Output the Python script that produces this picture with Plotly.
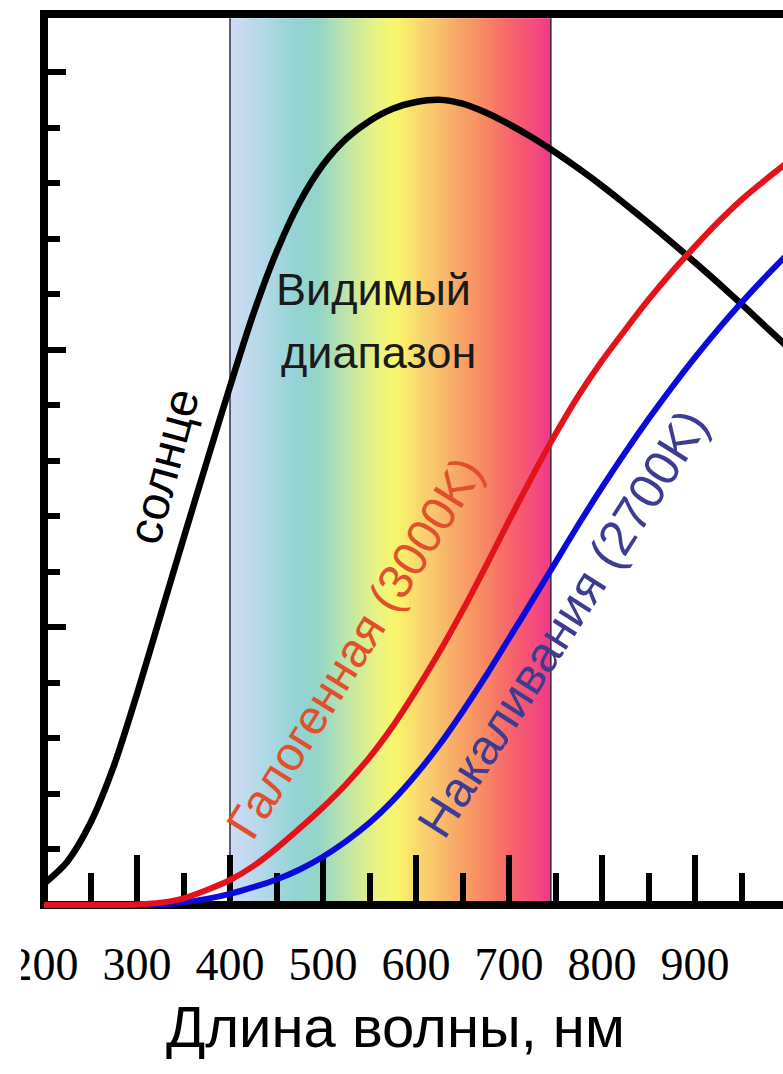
import plotly.graph_objects as go
from plotly.colors import sample_colorscale

# Relative spectral power versus wavelength (nm)
sun_nm = [200, 225, 250, 275, 300, 325, 350, 375, 400, 425, 450, 475, 500, 525,
          550, 575, 600, 625, 650, 675, 700, 725, 750, 775, 800, 825, 850, 875,
          900, 925, 950, 975, 1000]
sun_power = [0.38, 0.78, 1.48, 2.5, 3.8, 5.2, 6.6, 7.98, 9.34, 10.64, 11.76, 12.66,
             13.33, 13.8, 14.12, 14.34, 14.46, 14.5, 14.43, 14.27, 14.06, 13.82,
             13.55, 13.26, 12.95, 12.62, 12.28, 11.93, 11.57, 11.2, 10.82, 10.43, 10.04]

halogen_nm = [200, 250, 275, 300, 325, 350, 375, 400, 425, 450, 475, 500, 525, 550,
              575, 600, 625, 650, 675, 700, 725, 750, 775, 800, 825, 850, 875, 900,
              925, 950, 975, 1000]
halogen_power = [0.0, 0.0, 0.0, 0.01, 0.04, 0.12, 0.27, 0.45, 0.7, 1.02, 1.38, 1.76,
                 2.18, 2.66, 3.22, 3.86, 4.55, 5.3, 6.1, 6.92, 7.72, 8.48, 9.18, 9.8,
                 10.36, 10.9, 11.4, 11.86, 12.3, 12.7, 13.05, 13.38]

incandescent_nm = [200, 275, 300, 325, 350, 375, 400, 425, 450, 475, 500, 525, 550,
                   575, 600, 625, 650, 675, 700, 725, 750, 775, 800, 825, 850, 875,
                   900, 925, 950, 975, 1000]
incandescent_power = [0.0, 0.0, 0.0, 0.01, 0.05, 0.11, 0.2, 0.32, 0.46, 0.64, 0.87,
                      1.15, 1.48, 1.88, 2.35, 2.88, 3.48, 4.12, 4.8, 5.48, 6.17, 6.86,
                      7.52, 8.15, 8.75, 9.32, 9.86, 10.37, 10.85, 11.3, 11.73]

visible_band = [400, 745]

x_tick_values = [200, 300, 400, 500, 600, 700, 800, 900]
x_tick_labels = ["200", "300", "400", "500", "600", "700", "800", "900"]
y_major_ticks = [5, 10, 15]
y_minor_ticks = [1, 2, 3, 4, 6, 7, 8, 9, 11, 12, 13, 14]

# Axis windows
X_RANGE = [200, 994.6]
Y_RANGE = [-0.072, 16.045]
BAND_Y = [0.07, 15.97]

SANS = "Liberation Sans, Arial, sans-serif"
SERIF = "Liberation Serif, Times New Roman, serif"

# Rainbow fill of the visible band (stop position in nm, colour)
spectrum_stops = [
    (400, "#cfdcf5"), (430, "#b7d9ea"), (470, "#94d3d6"), (495, "#92d5c8"),
    (528, "#c2e7a6"), (560, "#ecf47e"), (580, "#f8f56a"), (608, "#f9d26f"),
    (640, "#f8ad68"), (672, "#f88a63"), (702, "#f7646c"), (730, "#f44a7e"),
    (745, "#f0388c"),
]
lo, hi = visible_band
spectrum_scale = [[(nm - lo) / (hi - lo), c] for nm, c in spectrum_stops]

fig = go.Figure()

# band as narrow strips under the ticks and curves
n_strips = 172
step = (hi - lo) / n_strips
strip_colours = sample_colorscale(spectrum_scale, [(i + 0.5) / n_strips for i in range(n_strips)])
for i, colour in enumerate(strip_colours):
    fig.add_shape(type="rect", xref="x", yref="y", layer="below",
                  x0=lo + i * step, x1=min(hi, lo + (i + 1.6) * step),
                  y0=BAND_Y[0], y1=BAND_Y[1],
                  fillcolor=colour, line=dict(width=0))
for edge in visible_band:
    fig.add_shape(type="line", xref="x", yref="y", layer="below",
                  x0=edge, x1=edge, y0=BAND_Y[0], y1=BAND_Y[1],
                  line=dict(color="#2d2d3c", width=1.5))

fig.add_trace(go.Scatter(
    x=sun_nm, y=sun_power, mode="lines",
    line=dict(color="#000000", width=6.5, shape="spline", smoothing=0.8),
    showlegend=False, hoverinfo="skip",
))
fig.add_trace(go.Scatter(
    x=incandescent_nm, y=incandescent_power, mode="lines",
    line=dict(color="#0a0adc", width=6, shape="spline", smoothing=0.8),
    showlegend=False, hoverinfo="skip",
))
fig.add_trace(go.Scatter(
    x=halogen_nm, y=halogen_power, mode="lines",
    line=dict(color="#e3121b", width=6, shape="spline", smoothing=0.8),
    showlegend=False, hoverinfo="skip",
))

# Frame: left, bottom and top lines (right side runs off the page)
frame = dict(type="line", xref="paper", yref="paper", layer="below",
             line=dict(color="black", width=8))
fig.add_shape(**frame, x0=0, x1=0, y0=0, y1=1.0045)
fig.add_shape(**frame, x0=-0.0054, x1=1.02, y0=0.00447, y1=0.00447)
fig.add_shape(**frame, x0=-0.0054, x1=1.02, y0=1, y1=1)
# trims the first tick label at the left edge
fig.add_shape(type="rect", xref="paper", yref="paper", layer="above",
              x0=-0.07, x1=-0.031, y0=-0.11, y1=-0.02,
              fillcolor="white", line=dict(width=0))

fig.add_annotation(x=554.8, y=11.08, xref="x", yref="y", text="Видимый",
                   showarrow=False, font=dict(family=SANS, size=45, color="#1a1a1a"))
fig.add_annotation(x=560, y=9.95, xref="x", yref="y", text="диапазон",
                   showarrow=False, font=dict(family=SANS, size=45, color="#1a1a1a"))
fig.add_annotation(x=328, y=7.9, xref="x", yref="y", text="солнце", textangle=-75,
                   showarrow=False, font=dict(family=SANS, size=48, color="#000000"))
fig.add_annotation(x=534.4, y=4.63, xref="x", yref="y", text="Галогенная (3000K)",
                   textangle=-58, showarrow=False,
                   font=dict(family=SANS, size=48, color="#e0502a"))
fig.add_annotation(x=758, y=5.08, xref="x", yref="y", text="Накаливания (2700K)",
                   textangle=-57.5, showarrow=False,
                   font=dict(family=SANS, size=49.5, color="#3c3c92"))
fig.add_annotation(x=0.475, y=-0.17, xref="paper", yref="paper",
                   text="Длина волны, нм", showarrow=False,
                   font=dict(family=SANS, size=58, color="#000000"))

fig.update_xaxes(
    range=X_RANGE, showgrid=False, zeroline=False, showline=False,
    tickmode="array", tickvals=x_tick_values, ticktext=x_tick_labels,
    ticks="inside", ticklen=54, tickwidth=6, tickcolor="black",
    minor=dict(dtick=50, tick0=200, ticks="inside", ticklen=36, tickwidth=6,
               tickcolor="black", showgrid=False),
    tickfont=dict(family=SERIF, size=46, color="black"),
    ticklabelstandoff=24, layer="below traces",
)
fig.update_yaxes(
    range=Y_RANGE, showgrid=False, zeroline=False, showline=False,
    showticklabels=False, tickmode="array", tickvals=y_major_ticks,
    ticks="inside", ticklen=22, tickwidth=6, tickcolor="black",
    minor=dict(tickmode="array", tickvals=y_minor_ticks, ticks="inside",
               ticklen=16, tickwidth=6, tickcolor="black", showgrid=False),
    layer="below traces",
)
fig.update_layout(
    width=783, height=1074,
    margin=dict(l=44, r=0, t=14, b=165),
    paper_bgcolor="white", plot_bgcolor="rgba(0,0,0,0)",
    showlegend=False,
)

fig.write_html("out.html")
